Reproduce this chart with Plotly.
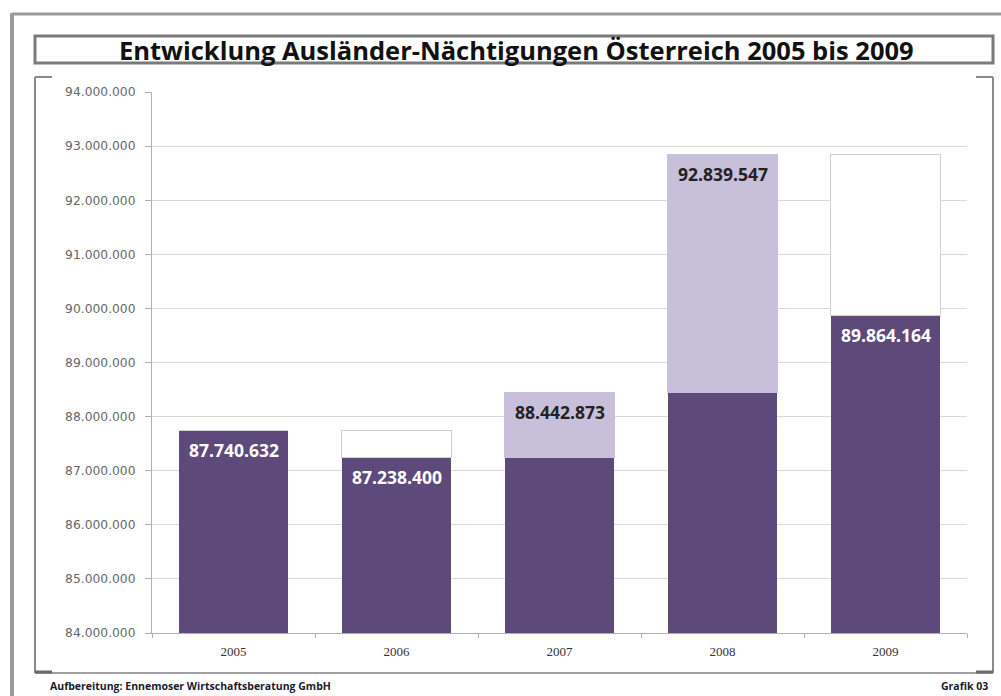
import plotly.graph_objects as go

years = ["2005", "2006", "2007", "2008", "2009"]
values = [87740632, 87238400, 88442873, 92839547, 89864164]
title_text = "Entwicklung Ausländer-Nächtigungen Österreich 2005 bis 2009"
footer_left = "Aufbereitung: Ennemoser Wirtschaftsberatung GmbH"
footer_right = "Grafik 03"

DARK = "#5e4a7a"
LIGHT = "#c8bfda"

# derived: base (dark) part and change part
base = [values[0]] + [min(values[i - 1], values[i]) for i in range(1, len(values))]
delta = [0] + [abs(values[i] - values[i - 1]) for i in range(1, len(values))]
up = [False] + [values[i] > values[i - 1] for i in range(1, len(values))]
delta_fill = [LIGHT if u else "white" for u in up]
delta_line = [LIGHT if u else "#d0d0d0" for u in up]

W, H = 1001, 696
L, R, T, B = 152, 967, 92, 633


def px(x):
    return (x - L) / (R - L)


def py(y):
    return (B - y) / (B - T)


fig = go.Figure()
fig.add_trace(go.Bar(x=years, y=base, marker=dict(color=DARK, line=dict(width=0)),
                     hoverinfo="skip", showlegend=False))
fig.add_trace(go.Bar(x=years, y=delta,
                     marker=dict(color=delta_fill, line=dict(color=delta_line, width=1)),
                     hoverinfo="skip", showlegend=False))

annotations = []
for i, (yr, v) in enumerate(zip(years, values)):
    dark_label = (i == 0) or (not up[i])
    annotations.append(dict(
        x=i, y=v, xref="x", yref="y", text=f"<b>{v:,}</b>".replace(",", "."),
        showarrow=False, yanchor="middle", yshift=-19,
        font=dict(family="Open Sans", size=17.5, color="white" if dark_label else "#222222"),
    ))

# title
annotations.append(dict(x=px(516), y=py(50), xref="paper", yref="paper", text=f"<b>{title_text}</b>",
                        showarrow=False, xanchor="center", yanchor="middle",
                        font=dict(family="Open Sans", size=25.5, color="#111111")))
annotations.append(dict(x=px(48), y=py(686), xref="paper", yref="paper", text=f"<b>{footer_left}</b>",
                        showarrow=False, xanchor="left", yanchor="middle",
                        font=dict(family="Open Sans", size=10.5, color="#1a1a2e")))
annotations.append(dict(x=px(990), y=py(686), xref="paper", yref="paper", text=f"<b>{footer_right}</b>",
                        showarrow=False, xanchor="right", yanchor="middle",
                        font=dict(family="Open Sans", size=10.5, color="#1a1a2e")))

FRAME = "#8a8a8a"
shapes = [
    # outer frame
    dict(type="line", x0=px(12), x1=px(12), y0=py(13), y1=py(700), xref="paper", yref="paper",
         line=dict(color="#9a9a9a", width=4)),
    dict(type="line", x0=px(12), x1=px(1005), y0=py(14), y1=py(14), xref="paper", yref="paper",
         line=dict(color="#9a9a9a", width=3)),
    # title box
    dict(type="rect", x0=px(35), x1=px(993), y0=py(36), y1=py(63), xref="paper", yref="paper",
         line=dict(color="#7a7a7a", width=3), fillcolor="rgba(0,0,0,0)", layer="below"),
    # chart frame
    dict(type="line", x0=px(35), x1=px(35), y0=py(77), y1=py(673), xref="paper", yref="paper",
         line=dict(color=FRAME, width=2)),
    dict(type="line", x0=px(35), x1=px(993), y0=py(673), y1=py(673), xref="paper", yref="paper",
         line=dict(color="#a0a0a0", width=2)),
    dict(type="line", x0=px(993), x1=px(993), y0=py(77), y1=py(673), xref="paper", yref="paper",
         line=dict(color=FRAME, width=2)),
    dict(type="line", x0=px(35), x1=px(52), y0=py(77), y1=py(77), xref="paper", yref="paper",
         line=dict(color=FRAME, width=2)),
    dict(type="line", x0=px(976), x1=px(993), y0=py(77), y1=py(77), xref="paper", yref="paper",
         line=dict(color=FRAME, width=2)),
    dict(type="line", x0=px(35), x1=px(52), y0=py(672), y1=py(672), xref="paper", yref="paper",
         line=dict(color="#6a6a6a", width=3)),
    dict(type="line", x0=px(976), x1=px(993), y0=py(672), y1=py(672), xref="paper", yref="paper",
         line=dict(color="#6a6a6a", width=3)),
]

fig.update_layout(
    width=W, height=H,
    margin=dict(l=L, r=W - R, t=T, b=H - B, pad=0),
    barmode="stack", bargap=0.33,
    paper_bgcolor="white", plot_bgcolor="white",
    separators=",.",
    annotations=annotations, shapes=shapes,
    showlegend=False,
)
fig.update_yaxes(range=[84000000, 94000000], dtick=1000000, tickformat=",d",
                 showgrid=True, gridcolor="#d9d9d9", gridwidth=1,
                 showline=True, linecolor="#b0b0b0", linewidth=1,
                 ticks="outside", ticklen=6, tickcolor="#b0b0b0",
                 ticklabelstandoff=7,
                 tickfont=dict(family="DejaVu Sans", size=12.3, color="#666666"),
                 zeroline=False)
fig.update_xaxes(type="category", range=[-0.5, len(years) - 0.5],
                 showline=True, linecolor="#b0b0b0", linewidth=1,
                 ticks="outside", ticklen=4, tickcolor="#b0b0b0", tickson="boundaries",
                 tickangle=0, ticklabelstandoff=6,
                 tickfont=dict(family="Liberation Serif", size=13, color="#333333"))

fig.write_html("out.html", config={"displayModeBar": False},
               post_script="document.body.style.margin='0';document.body.style.overflow='hidden';")
